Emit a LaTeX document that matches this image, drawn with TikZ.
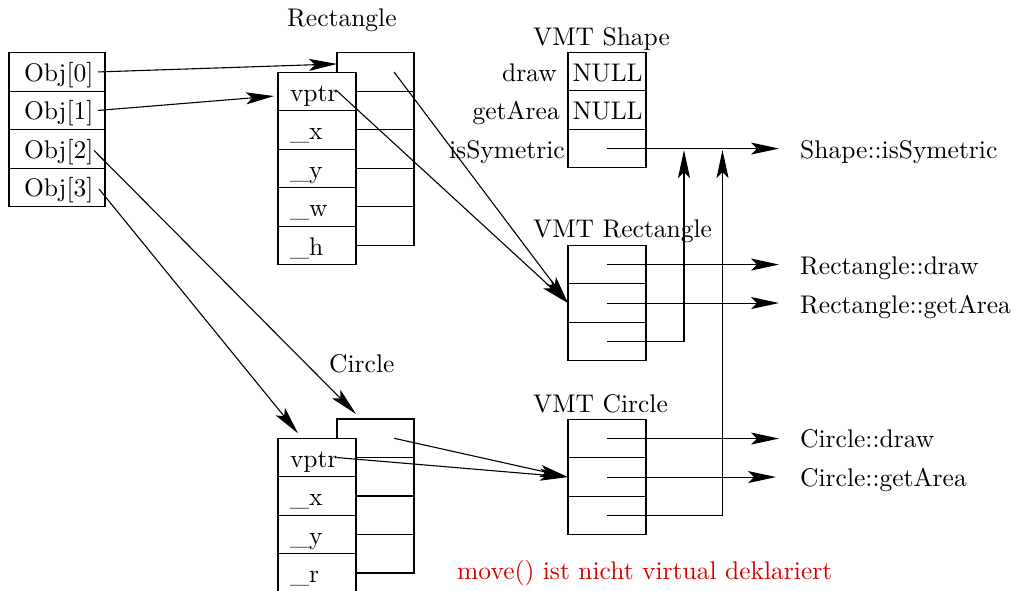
\documentclass[tikz,border=0pt]{standalone}
\usepackage{fontspec}
\usetikzlibrary{arrows.meta,calc}
\newfontfamily\lmten{lmroman10-regular}[Extension=.otf]
\newcommand\diagfont{\lmten\fontsize{25.5}{30}\selectfont}
\definecolor{notered}{RGB}{215,0,0}
\tikzset{
  ptr/.tip={Stealth[length=28pt,width=12pt,inset=6pt]},
  box/.style={draw=black, line width=1.2pt, inner ysep=0pt, outer sep=0pt,
    minimum height=38.5pt, anchor=north west, align=left,
    text height=19pt, text depth=0pt, font=\diagfont},
  objcell/.style={box, minimum width=96pt, inner xsep=15pt, text width=66pt},
  fieldcell/.style={box, fill=white, minimum width=78pt, inner xsep=12pt, text width=54pt},
  backcell/.style={box, minimum width=77pt, inner xsep=0pt, text width=77pt},
  vmtcell/.style={box, minimum width=78pt, inner xsep=4.5pt, text width=69pt},
  caption/.style={font=\diagfont, inner sep=0pt, anchor=base west},
  slot/.style={caption, anchor=base east},
  link/.style={line width=1.1pt, -ptr},
}
\begin{document}
\begin{tikzpicture}[x=1pt, y=-1pt]
\useasboundingbox (0,0) rectangle (1017,590);

% array of object pointers
\node[objcell] (obj0) at (9,52.7) {Obj[0]};
\node[objcell] (obj1) at (obj0.south west) {Obj[1]};
\node[objcell] (obj2) at (obj1.south west) {Obj[2]};
\node[objcell] (obj3) at (obj2.south west) {Obj[3]};

% Rectangle object: second layer behind the field list
\node[backcell] (rb1) at (337,52.7) {};
\node[backcell] (rb2) at (rb1.south west) {};
\node[backcell] (rb3) at (rb2.south west) {};
\node[backcell] (rb4) at (rb3.south west) {};
\node[backcell] (rb5) at (rb4.south west) {};
\node[fieldcell] (rvptr) at (278,72.3) {vptr};
\node[fieldcell] (rx) at (rvptr.south west) {\_x};
\node[fieldcell] (ry) at (rx.south west) {\_y};
\node[fieldcell] (rw) at (ry.south west) {\_w};
\node[fieldcell] (rh) at (rw.south west) {\_h};

% Circle object
\node[backcell] (cb1) at (337,419) {};
\node[backcell] (cb2) at (cb1.south west) {};
\node[backcell] (cb3) at (cb2.south west) {};
\node[backcell] (cb4) at (cb3.south west) {};
\node[fieldcell] (cvptr) at (278,438.3) {vptr};
\node[fieldcell] (cx) at (cvptr.south west) {\_x};
\node[fieldcell] (cy) at (cx.south west) {\_y};
\node[fieldcell] (cr) at (cy.south west) {\_r};

% virtual method tables
\node[vmtcell] (vs1) at (568,52.3) {NULL};
\node[vmtcell] (vs2) at (vs1.south west) {NULL};
\node[vmtcell] (vs3) at (vs2.south west) {};
\node[vmtcell] (vr1) at (568,245.3) {};
\node[vmtcell] (vr2) at (vr1.south west) {};
\node[vmtcell] (vr3) at (vr2.south west) {};
\node[vmtcell] (vc1) at (568,419.3) {};
\node[vmtcell] (vc2) at (vc1.south west) {};
\node[vmtcell] (vc3) at (vc2.south west) {};

% captions
\node[caption] (capRect) at (287,26) {Rectangle};
\node[caption] (capCircle) at (329,372.7) {Circle};
\node[caption] (capVS) at (533,45) {VMT Shape};
\node[caption] (capVR) at (533,237.3) {VMT Rectangle};
\node[caption] (capVC) at (533,412.3) {VMT Circle};
\node[slot] (sDraw) at (557,81) {draw};
\node[slot] (sArea) at (560,119.5) {getArea};
\node[slot] (sSym) at (565,158.5) {isSymetric};

% method implementations
\node[caption] (fSym) at (800,158.5) {Shape::isSymetric};
\node[caption] (fRDraw) at (800,274.5) {Rectangle::draw};
\node[caption] (fRArea) at (800,313.5) {Rectangle::getArea};
\node[caption] (fCDraw) at (800,447.5) {Circle::draw};
\node[caption] (fCArea) at (800,486.5) {Circle::getArea};
\node[caption, text=notered] (note) at (457,579.5) {move() ist nicht virtual deklariert};

% pointers from the array to the objects
\draw[link] ($(obj0.east)+(-7,0)$) -- ($(rb1.west)+(0,-8)$);
\draw[link] ($(obj1.east)+(-7,0)$) -- ($(rvptr.west)+(-4,4.5)$);
\draw[link] ($(obj2.east)+(-11,1.5)$) -- ($(cb1.north west)+(19,-5)$);
\draw[link] ($(obj3.east)+(-6,1.5)$) -- ($(cvptr.north west)+(20,-5)$);

% vptr links to the tables
\draw[link] ($(rb1.center)+(18.5,0)$) -- (vr2.west);
\draw[link] ($(rvptr.east)+(-20,-1.5)$) -- (vr2.west);
\draw[link] ($(cb1.center)+(18.5,0)$) -- (vc2.west);
\draw[link] ($(cvptr.east)+(-19,0)$) -- (vc2.west);

% table entries to the implementations
\coordinate (upA) at (684,150);
\coordinate (upB) at (722.5,150);
\draw[link] (vs3.center) -- ++(172,0);
\draw[link] (vr1.center) -- ++(172,0);
\draw[link] (vr2.center) -- ++(172,0);
\draw[link] (vr3.center) -| (upA);
\draw[link] (vc1.center) -- ++(172,0);
\draw[link] (vc2.center) -- ++(169,0);
\draw[link] (vc3.center) -| (upB);
\end{tikzpicture}
\end{document}
